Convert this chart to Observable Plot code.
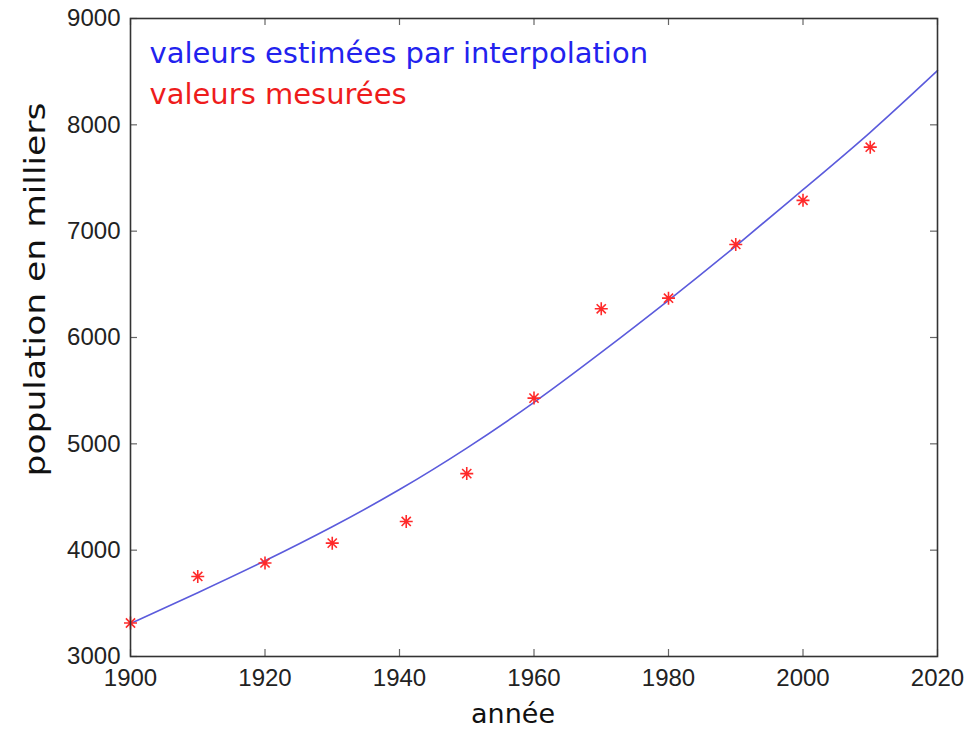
<!DOCTYPE html>
<html><head><meta charset="utf-8">
<script src="https://cdn.jsdelivr.net/npm/d3@7"></script>
<script src="https://cdn.jsdelivr.net/npm/@observablehq/plot@0.6"></script>
<style>body{margin:0;background:#fff}</style></head>
<body><div id="chart"></div>
<script>
// measured values (census years)
const measuredYears = [1900,1910,1920,1930,1941,1950,1960,1970,1980,1990,2000,2010];
const measuredPop   = [3315,3753,3880,4066,4270,4720,5430,6270,6370,6875,7290,7790];
// interpolated curve
const curveYears = [1900,1910,1920,1930,1940,1950,1960,1970,1980,1990,2000,2010,2020];
const curvePop   = [3310,3600,3900,4220,4570,4960,5390,5860,6350,6860,7390,7930,8510];
const xTicks = [1900,1920,1940,1960,1980,2000,2020];
const yTicks = [3000,4000,5000,6000,7000,8000,9000];
const legendTexts = ["valeurs estimées par interpolation","valeurs mesurées"];
const xLabel = "année";
const yLabel = "population en milliers";

const measured = measuredYears.map((y,i)=>({year:y, pop:measuredPop[i]}));
const curve = curveYears.map((y,i)=>({year:y, pop:curvePop[i]}));

const W = 969, H = 730;
const mL = 130, mR = 32, mT = 18, mB = 74;
const innerW = W - mL - mR, innerH = H - mT - mB;
const tickLen = 7;

const asterisk8 = {
  draw(ctx, size) {
    const r = Math.sqrt(size / Math.PI);
    for (let k = 0; k < 4; k++) {
      const a = k * Math.PI / 4;
      const c = Math.cos(a) * r, s = Math.sin(a) * r;
      ctx.moveTo(-c, -s); ctx.lineTo(c, s);
    }
  }
};

const plot = Plot.plot({
  width: W, height: H,
  marginLeft: mL, marginRight: mR, marginTop: mT, marginBottom: mB,
  style: {fontFamily: "'Liberation Sans', Arial, sans-serif", background: "#fff"},
  x: {domain: [1900, 2020], ticks: xTicks, tickFormat: d => String(d)},
  y: {domain: [3000, 9000], ticks: yTicks, tickFormat: d => String(d)},
  marks: [
    Plot.axisX(xTicks, {anchor: "bottom", tickSize: 0, tickPadding: 12, fontSize: 24, fill: "#222", label: null, tickFormat: d => String(d)}),
    Plot.axisY(yTicks, {anchor: "left", tickSize: 0, tickPadding: 10, fontSize: 24, fill: "#222", label: null, tickFormat: d => String(d)}),
    // inward ticks on all four sides
    Plot.tickX(xTicks, {x: d => d, insetTop: innerH - tickLen, stroke: "#666", strokeWidth: 1.2}),
    Plot.tickX(xTicks, {x: d => d, insetBottom: innerH - tickLen, stroke: "#666", strokeWidth: 1.2}),
    Plot.tickY(yTicks, {y: d => d, insetRight: innerW - tickLen, stroke: "#666", strokeWidth: 1.2}),
    Plot.tickY(yTicks, {y: d => d, insetLeft: innerW - tickLen, stroke: "#666", strokeWidth: 1.2}),
    Plot.line(curve, {x: "year", y: "pop", curve: "natural", stroke: "#5b5bdc", strokeWidth: 1.6}),
    Plot.dot(measured, {x: "year", y: "pop", symbol: asterisk8, r: 6.5, stroke: "#ff2a2a", strokeWidth: 1.6}),
    Plot.frame({stroke: "#333", strokeWidth: 1.6}),
    Plot.text([legendTexts[0]], {text: d => d, frameAnchor: "top-left", textAnchor: "start", lineAnchor: "bottom", dx: 19, dy: 44, fontSize: 29, fill: "#2222ee", fontFamily: "'DejaVu Sans', sans-serif"}),
    Plot.text([legendTexts[1]], {text: d => d, frameAnchor: "top-left", textAnchor: "start", lineAnchor: "bottom", dx: 19, dy: 85, fontSize: 29, fill: "#ee1c1c", fontFamily: "'DejaVu Sans', sans-serif"}),
    Plot.text([xLabel], {text: d => d, frameAnchor: "bottom", textAnchor: "middle", lineAnchor: "bottom", dx: -21, dy: 66, fontSize: 27, fill: "#111", fontFamily: "'DejaVu Sans', sans-serif"}),
    Plot.text([yLabel], {text: d => d, frameAnchor: "left", textAnchor: "middle", lineAnchor: "middle", rotate: -90, dx: -95, dy: -48, fontSize: 29, fill: "#111", fontFamily: "'DejaVu Sans', sans-serif"})
  ]
});
document.getElementById("chart").appendChild(plot);
// stretch the y label along its length like the reference
d3.select(plot).selectAll("text").filter(function(){ return this.textContent === yLabel; })
  .attr("transform", function(){ return (this.getAttribute("transform") || "") + " scale(1.19,1)"; });
</script>
</body></html>
